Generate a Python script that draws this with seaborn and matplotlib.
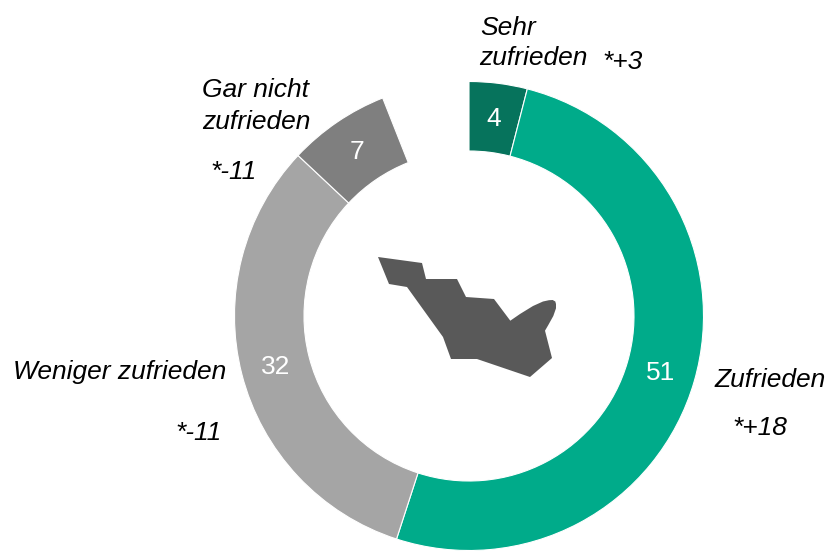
import numpy as np
import matplotlib
matplotlib.use("Agg")
import matplotlib.pyplot as plt
from matplotlib.patches import Polygon
import seaborn as sns

# werte im uhrzeigersinn, rest bis 100 bleibt als luecke
categories = ["Sehr zufrieden", "Zufrieden", "Weniger zufrieden", "Gar nicht zufrieden"]
values = [4, 51, 32, 7]
colors = ["#06735C", "#00AB8A", "#A5A5A5", "#7F7F7F"]
no_answer = 6

sns.set_theme(style="white")
plt.rcParams["font.family"] = ["Liberation Sans", "DejaVu Sans"]

fig = plt.figure(figsize=(8.3, 5.52), dpi=100)
ax = fig.add_axes([0, 0, 1, 1])

CX, CY, R = 469, 316, 234.5
WIDTH = 69.5

wedges, _ = ax.pie(
    values + [no_answer],
    colors=colors + ["white"],
    center=(CX, CY),
    radius=R,
    startangle=270,
    wedgeprops=dict(width=WIDTH, edgecolor="white", linewidth=0.8),
)
wedges[-1].set_visible(False)

# y-achse laeuft wie bei pixeln nach unten
ax.set_xlim(0, 830)
ax.set_ylim(552, 0)
ax.set_aspect("equal")
ax.axis("off")

# zahlen in der mitte vom ring
for w, v in zip(wedges, values):
    mid = np.deg2rad((w.theta1 + w.theta2) / 2)
    rr = R - WIDTH / 2
    ax.text(CX + rr * np.cos(mid), CY + rr * np.sin(mid) + 1.5, str(v),
            color="white", fontsize=19, ha="center", va="center")

# beschriftungen, y ist die grundlinie
def lab(x, y, s):
    ax.text(x, y, s, fontsize=19, style="italic", color="black",
            ha="left", va="baseline")

lab(480, 35, "Sehr")
lab(479, 65, "zufrieden")
lab(602.5, 69, "*+3")
lab(202, 97, "Gar nicht")
lab(202, 129, "zufrieden")
lab(210.5, 179, "*-11")
lab(13, 379, "Weniger zufrieden")
lab(175.5, 440, "*-11")
lab(715, 387, "Zufrieden")
lab(732.5, 435, "*+18")

# umriss in der mitte (dekoration)
outline = [(378, 257), (422, 263), (426, 279), (457, 279), (466, 297), (494, 299),
           (510.3, 320.7), (520, 314), (533, 306), (543, 301.5), (549, 300.2),
           (552.7, 300), (555.3, 301.5), (556, 304), (556, 308.3), (553.3, 316),
           (548.3, 325), (545, 330.7), (552, 358), (530, 377), (477, 359), (451, 359),
           (443, 337), (407, 287), (389, 284)]
ax.add_patch(Polygon(outline, closed=True, facecolor="#595959", edgecolor="none"))

fig.savefig("out.png", dpi=100)
